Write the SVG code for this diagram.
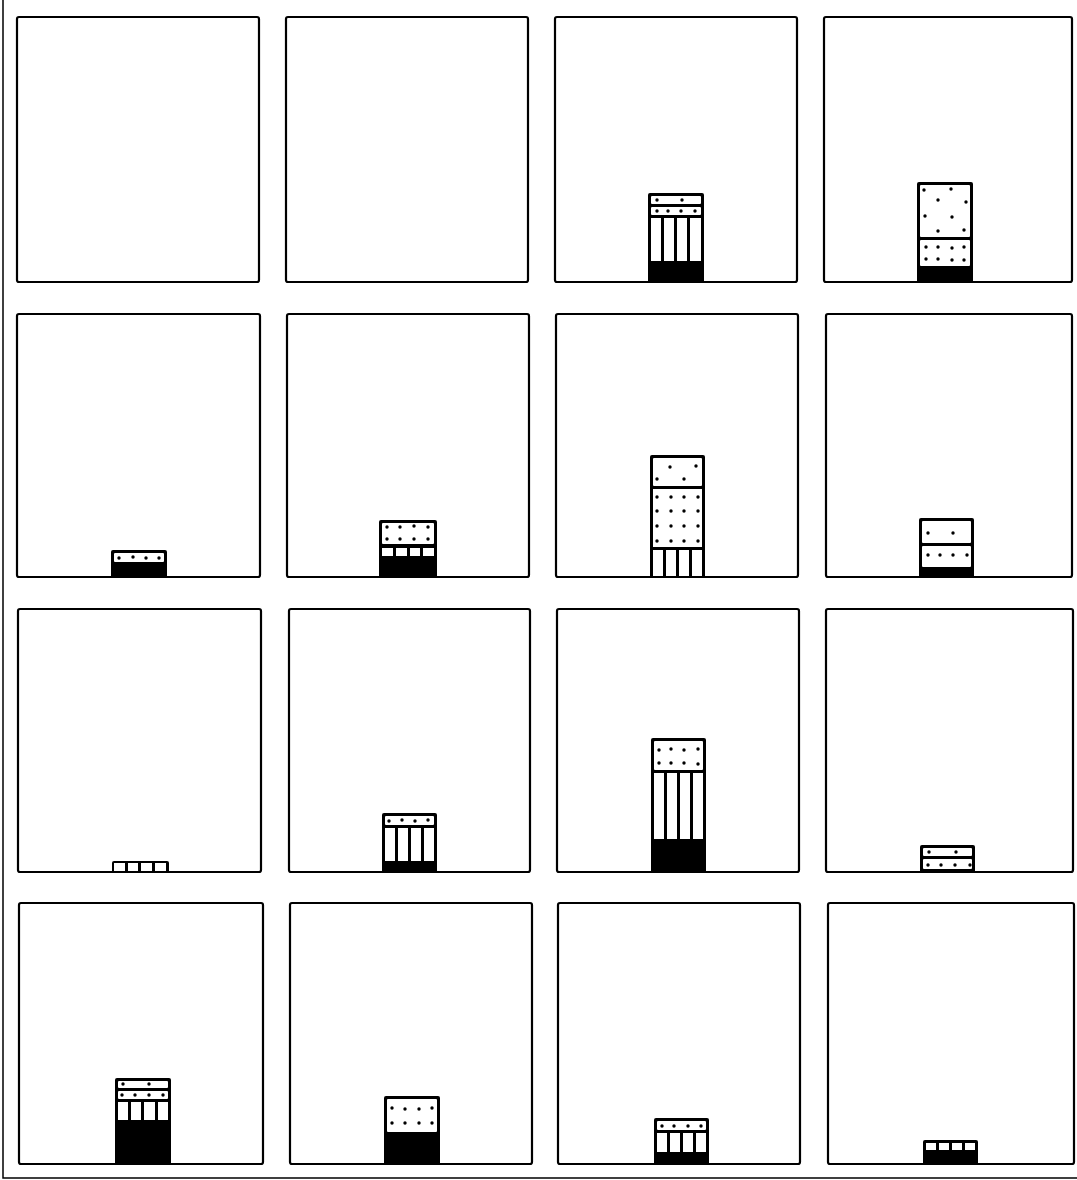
<svg xmlns="http://www.w3.org/2000/svg" width="1077" height="1180" viewBox="0 0 1077 1180">
<style>
.panel{fill:#fff;stroke:#000;stroke-width:2.2}
.bar{fill:#000}
.c{fill:#fff}
.d{fill:#000}
circle.d{r:1.7px}
.frame{fill:none;stroke:#000;stroke-width:1.5}
</style>
<rect width="1077" height="1180" fill="#fff"/>
<path class="frame" d="M3,0 V1178 H1077"/>
<g id="connectors"/>
<!-- Row 1 -->
<g id="p1"><rect class="panel" x="17" y="17" width="242" height="265" rx="2"/></g>
<g id="p2"><rect class="panel" x="286" y="17" width="242" height="265" rx="2"/></g>
<g id="p3"><rect class="panel" x="555" y="17" width="242" height="265" rx="2"/>
<rect class="bar" x="648" y="193" width="56" height="90" rx="2"/>
<rect class="c" x="651" y="196" width="50" height="8" rx="1"/>
<rect class="c" x="651" y="207" width="50" height="8" rx="1"/>
<rect class="c" x="651" y="218" width="10" height="43"/><rect class="c" x="664" y="218" width="10" height="43"/><rect class="c" x="677" y="218" width="10" height="43"/><rect class="c" x="690" y="218" width="11" height="43"/>
<circle class="d" cx="657" cy="200" r="1.7"/><circle class="d" cx="682" cy="200" r="1.7"/>
<circle class="d" cx="657" cy="211" r="1.7"/><circle class="d" cx="668" cy="211" r="1.7"/><circle class="d" cx="681" cy="211" r="1.7"/><circle class="d" cx="695" cy="211" r="1.7"/>
</g>
<g id="p4"><rect class="panel" x="824" y="17" width="248" height="265" rx="2"/>
<rect class="bar" x="917" y="182" width="56" height="101" rx="2"/>
<rect class="c" x="920" y="185" width="50" height="52" rx="1"/>
<rect class="c" x="920" y="240" width="50" height="26" rx="1"/>
<circle class="d" cx="924" cy="190" r="1.7"/><circle class="d" cx="951" cy="189" r="1.7"/><circle class="d" cx="938" cy="200" r="1.7"/><circle class="d" cx="966" cy="202" r="1.7"/><circle class="d" cx="925" cy="216" r="1.7"/><circle class="d" cx="952" cy="217" r="1.7"/><circle class="d" cx="938" cy="231" r="1.7"/><circle class="d" cx="964" cy="230" r="1.7"/>
<circle class="d" cx="926" cy="247" r="1.7"/><circle class="d" cx="938" cy="247" r="1.7"/><circle class="d" cx="952" cy="248" r="1.7"/><circle class="d" cx="964" cy="247" r="1.7"/>
<circle class="d" cx="926" cy="259" r="1.7"/><circle class="d" cx="938" cy="259" r="1.7"/><circle class="d" cx="952" cy="260" r="1.7"/><circle class="d" cx="964" cy="260" r="1.7"/>
</g>
<!-- Row 2 -->
<g id="p5"><rect class="panel" x="17" y="314" width="243" height="263" rx="2"/>
<rect class="bar" x="111" y="550" width="56" height="28" rx="2"/>
<rect class="c" x="114" y="553" width="50" height="9" rx="1"/>
<circle class="d" cx="119" cy="558" r="1.7"/><circle class="d" cx="133" cy="557" r="1.7"/><circle class="d" cx="146" cy="558" r="1.7"/><circle class="d" cx="159" cy="558" r="1.7"/>
</g>
<g id="p6"><rect class="panel" x="287" y="314" width="242" height="263" rx="2"/>
<rect class="bar" x="379" y="520" width="58" height="58" rx="2"/>
<rect class="c" x="382" y="523" width="52" height="21" rx="1"/>
<rect class="c" x="382" y="548" width="11" height="8"/><rect class="c" x="396" y="548" width="11" height="8"/><rect class="c" x="410" y="548" width="10" height="8"/><rect class="c" x="423" y="548" width="11" height="8"/>
<circle class="d" cx="387" cy="527" r="1.7"/><circle class="d" cx="400" cy="527" r="1.7"/><circle class="d" cx="414" cy="526" r="1.7"/><circle class="d" cx="428" cy="527" r="1.7"/>
<circle class="d" cx="387" cy="539" r="1.7"/><circle class="d" cx="400" cy="539" r="1.7"/><circle class="d" cx="414" cy="539" r="1.7"/><circle class="d" cx="428" cy="539" r="1.7"/>
</g>
<g id="p7"><rect class="panel" x="556" y="314" width="242" height="263" rx="2"/>
<rect class="bar" x="650" y="455" width="55" height="123" rx="2"/>
<rect class="c" x="653" y="458" width="49" height="28" rx="1"/>
<rect class="c" x="653" y="489" width="49" height="58"/>
<rect class="c" x="653" y="550" width="10" height="26"/><rect class="c" x="666" y="550" width="10" height="26"/><rect class="c" x="679" y="550" width="10" height="26"/><rect class="c" x="692" y="550" width="10" height="26"/>
<circle class="d" cx="670" cy="467" r="1.7"/><circle class="d" cx="696" cy="466" r="1.7"/><circle class="d" cx="657" cy="479" r="1.7"/><circle class="d" cx="684" cy="479" r="1.7"/>
<circle class="d" cx="657" cy="497" r="1.7"/><circle class="d" cx="671" cy="497" r="1.7"/><circle class="d" cx="684" cy="497" r="1.7"/><circle class="d" cx="698" cy="497" r="1.7"/>
<circle class="d" cx="657" cy="511" r="1.7"/><circle class="d" cx="671" cy="511" r="1.7"/><circle class="d" cx="684" cy="511" r="1.7"/><circle class="d" cx="698" cy="511" r="1.7"/>
<circle class="d" cx="657" cy="526" r="1.7"/><circle class="d" cx="671" cy="526" r="1.7"/><circle class="d" cx="684" cy="526" r="1.7"/><circle class="d" cx="698" cy="526" r="1.7"/>
<circle class="d" cx="657" cy="541" r="1.7"/><circle class="d" cx="671" cy="541" r="1.7"/><circle class="d" cx="684" cy="541" r="1.7"/><circle class="d" cx="698" cy="541" r="1.7"/>
</g>
<g id="p8"><rect class="panel" x="826" y="314" width="246" height="263" rx="2"/>
<rect class="bar" x="919" y="518" width="55" height="60" rx="2"/>
<rect class="c" x="922" y="521" width="49" height="22" rx="1"/>
<rect class="c" x="922" y="546" width="49" height="21" rx="1"/>
<circle class="d" cx="928" cy="533" r="1.7"/><circle class="d" cx="953" cy="533" r="1.7"/>
<circle class="d" cx="928" cy="555" r="1.7"/><circle class="d" cx="940" cy="555" r="1.7"/><circle class="d" cx="953" cy="555" r="1.7"/><circle class="d" cx="967" cy="555" r="1.7"/>
</g>
<!-- Row 3 -->
<g id="p9"><rect class="panel" x="18" y="609" width="243" height="263" rx="2"/>
<rect class="bar" x="112" y="861" width="57" height="12" rx="2"/>
<rect class="c" x="114" y="863" width="11" height="8"/><rect class="c" x="128" y="863" width="10" height="8"/><rect class="c" x="141" y="863" width="11" height="8"/><rect class="c" x="155" y="863" width="11" height="8"/>
</g>
<g id="p10"><rect class="panel" x="289" y="609" width="241" height="263" rx="2"/>
<rect class="bar" x="382" y="813" width="55" height="60" rx="2"/>
<rect class="c" x="385" y="816" width="49" height="9" rx="1"/>
<rect class="c" x="385" y="828" width="10" height="33"/><rect class="c" x="398" y="828" width="10" height="33"/><rect class="c" x="411" y="828" width="10" height="33"/><rect class="c" x="424" y="828" width="10" height="33"/>
<circle class="d" cx="389" cy="821" r="1.7"/><circle class="d" cx="402" cy="820" r="1.7"/><circle class="d" cx="415" cy="821" r="1.7"/><circle class="d" cx="428" cy="820" r="1.7"/>
</g>
<g id="p11"><rect class="panel" x="557" y="609" width="242" height="263" rx="2"/>
<rect class="bar" x="651" y="738" width="55" height="135" rx="2"/>
<rect class="c" x="654" y="741" width="49" height="29" rx="1"/>
<rect class="c" x="654" y="773" width="10" height="66"/><rect class="c" x="667" y="773" width="10" height="66"/><rect class="c" x="680" y="773" width="10" height="66"/><rect class="c" x="693" y="773" width="10" height="66"/>
<circle class="d" cx="659" cy="750" r="1.7"/><circle class="d" cx="671" cy="749" r="1.7"/><circle class="d" cx="684" cy="750" r="1.7"/><circle class="d" cx="698" cy="749" r="1.7"/>
<circle class="d" cx="659" cy="763" r="1.7"/><circle class="d" cx="671" cy="763" r="1.7"/><circle class="d" cx="684" cy="763" r="1.7"/><circle class="d" cx="698" cy="764" r="1.7"/>
</g>
<g id="p12"><rect class="panel" x="826" y="609" width="247" height="263" rx="2"/>
<rect class="bar" x="920" y="845" width="55" height="28" rx="2"/>
<rect class="c" x="923" y="848" width="49" height="8" rx="1"/>
<rect class="c" x="923" y="859" width="49" height="10" rx="1"/>
<circle class="d" cx="929" cy="852" r="1.7"/><circle class="d" cx="956" cy="852" r="1.7"/>
<circle class="d" cx="928" cy="865" r="1.7"/><circle class="d" cx="941" cy="865" r="1.7"/><circle class="d" cx="955" cy="865" r="1.7"/><circle class="d" cx="970" cy="865" r="1.7"/>
</g>
<!-- Row 4 -->
<g id="p13"><rect class="panel" x="19" y="903" width="244" height="261" rx="2"/>
<rect class="bar" x="115" y="1078" width="56" height="87" rx="2"/>
<rect class="c" x="118" y="1081" width="50" height="7" rx="1"/>
<rect class="c" x="118" y="1091" width="50" height="8" rx="1"/>
<rect class="c" x="118" y="1102" width="10" height="18"/><rect class="c" x="131" y="1102" width="10" height="18"/><rect class="c" x="144" y="1102" width="11" height="18"/><rect class="c" x="158" y="1102" width="10" height="18"/>
<circle class="d" cx="123" cy="1084" r="1.7"/><circle class="d" cx="149" cy="1084" r="1.7"/>
<circle class="d" cx="122" cy="1095" r="1.7"/><circle class="d" cx="135" cy="1095" r="1.7"/><circle class="d" cx="149" cy="1095" r="1.7"/><circle class="d" cx="163" cy="1095" r="1.7"/>
</g>
<g id="p14"><rect class="panel" x="290" y="903" width="242" height="261" rx="2"/>
<rect class="bar" x="384" y="1096" width="56" height="69" rx="2"/>
<rect class="c" x="387" y="1099" width="50" height="33" rx="1"/>
<circle class="d" cx="392" cy="1108" r="1.7"/><circle class="d" cx="405" cy="1109" r="1.7"/><circle class="d" cx="419" cy="1109" r="1.7"/><circle class="d" cx="432" cy="1108" r="1.7"/>
<circle class="d" cx="392" cy="1123" r="1.7"/><circle class="d" cx="405" cy="1123" r="1.7"/><circle class="d" cx="419" cy="1123" r="1.7"/><circle class="d" cx="432" cy="1123" r="1.7"/>
</g>
<g id="p15"><rect class="panel" x="558" y="903" width="242" height="261" rx="2"/>
<rect class="bar" x="654" y="1118" width="55" height="47" rx="2"/>
<rect class="c" x="657" y="1121" width="49" height="9" rx="1"/>
<rect class="c" x="657" y="1133" width="10" height="19"/><rect class="c" x="670" y="1133" width="10" height="19"/><rect class="c" x="683" y="1133" width="10" height="19"/><rect class="c" x="696" y="1133" width="10" height="19"/>
<circle class="d" cx="662" cy="1126" r="1.7"/><circle class="d" cx="674" cy="1126" r="1.7"/><circle class="d" cx="688" cy="1126" r="1.7"/><circle class="d" cx="701" cy="1126" r="1.7"/>
</g>
<g id="p16"><rect class="panel" x="828" y="903" width="246" height="261" rx="2"/>
<rect class="bar" x="923" y="1140" width="55" height="25" rx="2"/>
<rect class="c" x="926" y="1143" width="10" height="7"/><rect class="c" x="939" y="1143" width="10" height="7"/><rect class="c" x="952" y="1143" width="10" height="7"/><rect class="c" x="965" y="1143" width="10" height="7"/>
</g>
</svg>
